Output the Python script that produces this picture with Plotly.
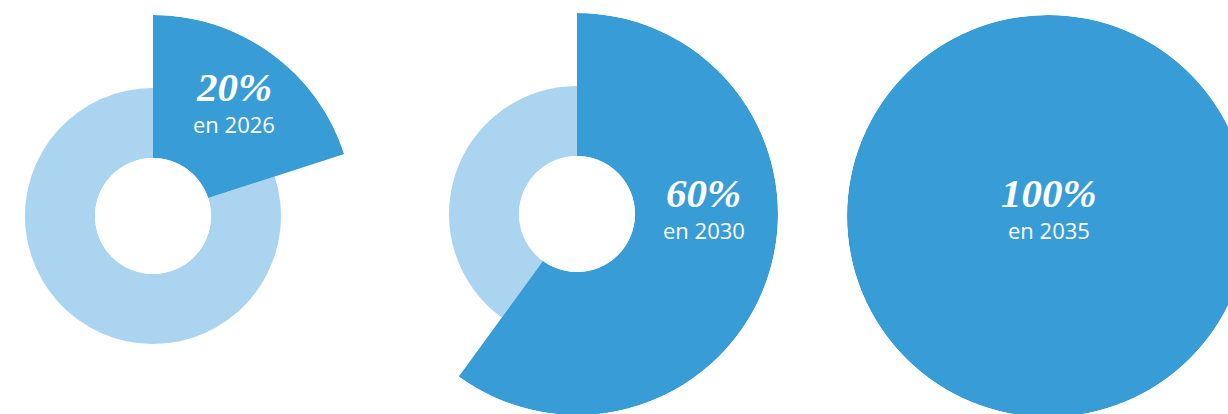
import plotly.graph_objects as go

# Share of the target reached, per milestone year
shares = [20, 60, 100]          # percent
years = [2026, 2030, 2035]
share_labels = ["20%", "60%", "100%"]
year_labels = ["en 2026", "en 2030", "en 2035"]

DARK = "#389dd6"
LIGHT = "#aad4ef"

# Canvas (slightly wider than the view, shifted left so the first disc bleeds off the edge)
W, H = 1328, 432
SHIFT_X = 50

# Disc centres (px in the visible view), outer radius of the wedge, ring and hole radii
centers = [(153, 216), (577, 214), (1048, 216)]
R_OUT = 201
R_RING = 128
R_HOLE = 58

# Label centres in the visible view
label_pos = [(234, 87, 124), (704, 193, 230), (1049, 193, 230)]

fig = go.Figure()
annotations = []

for i, (share, year) in enumerate(zip(shares, years)):
    cx, cy = centers[i]
    cx += SHIFT_X
    pid = "polar" if i == 0 else f"polar{i + 1}"
    sub = pid

    full = share >= 100
    hole = 0 if full else R_HOLE / R_OUT
    # radial value that lands on the light ring's outer edge
    ring_r = (R_RING - R_HOLE) / (R_OUT - R_HOLE)

    span = share * 3.6
    rest = 360 - span
    if rest > 0:
        fig.add_trace(go.Barpolar(
            r=[ring_r], theta=[span + rest / 2], width=[rest],
            marker=dict(color=LIGHT, line=dict(width=0)),
            subplot=sub, hoverinfo="skip", showlegend=False,
        ))
    fig.add_trace(go.Barpolar(
        r=[1], theta=[span / 2], width=[span],
        marker=dict(color=DARK, line=dict(width=0)),
        subplot=sub, name=str(year), hoverinfo="skip", showlegend=False,
    ))

    fig.layout[pid] = dict(
        domain=dict(
            x=[(cx - R_OUT) / W, (cx + R_OUT) / W],
            y=[1 - (cy + R_OUT) / H, 1 - (cy - R_OUT) / H],
        ),
        hole=hole,
        bgcolor="rgba(0,0,0,0)",
        bargap=0,
        radialaxis=dict(visible=False, range=[0, 1]),
        angularaxis=dict(visible=False, rotation=90, direction="clockwise"),
    )

    lx, ly1, ly2 = label_pos[i]
    annotations.append(dict(
        x=(lx + SHIFT_X) / W, y=1 - ly1 / H, xref="paper", yref="paper",
        text=f"<b><i>{share_labels[i]}</i></b>", showarrow=False,
        xanchor="center", yanchor="middle",
        font=dict(family="Liberation Serif", size=41, color="white"),
    ))
    annotations.append(dict(
        x=(lx + SHIFT_X) / W, y=1 - ly2 / H, xref="paper", yref="paper",
        text=year_labels[i], showarrow=False,
        xanchor="center", yanchor="middle",
        font=dict(family="Open Sans", size=22, color="white"),
    ))

fig.update_layout(
    width=W, height=H,
    margin=dict(l=0, r=0, t=0, b=0),
    paper_bgcolor="white",
    plot_bgcolor="white",
    annotations=annotations,
    showlegend=False,
)

fig.write_html(
    "out.html",
    post_script=(
        "document.body.style.margin='0';"
        "document.body.style.overflow='hidden';"
        "var gd=document.getElementById('{plot_id}');"
        "gd.style.position='absolute';gd.style.left='-%dpx';gd.style.top='0px';" % SHIFT_X
    ),
)
